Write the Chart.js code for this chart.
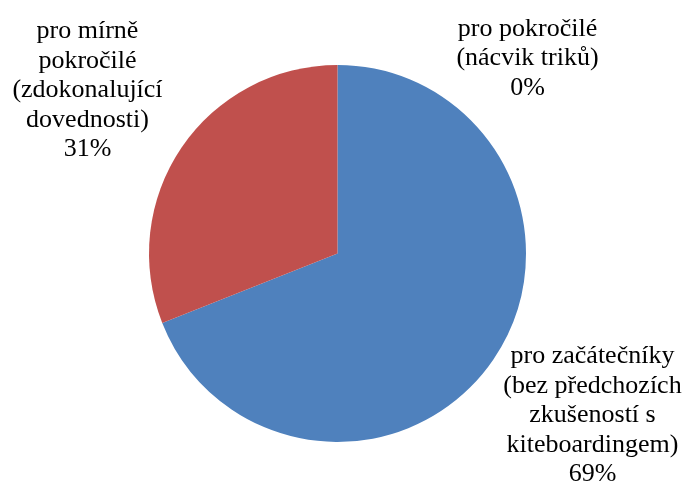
<!DOCTYPE html>
<html>
<head>
<meta charset="utf-8">
<script src="https://cdn.jsdelivr.net/npm/chart.js@4"></script>
<style>
  html, body { margin: 0; padding: 0; background: #fff; }
  #wrap { width: 682px; height: 488px; position: relative; }
</style>
</head>
<body>
<div id="wrap"><canvas id="pie"></canvas></div>
<script>
// kiteboarding course levels, share of respondents (%)
const categories = [
    ['pro začátečníky', '(bez předchozích', 'zkušeností s', 'kiteboardingem)'],
    ['pro mírně', 'pokročilé', '(zdokonalující', 'dovednosti)'],
    ['pro pokročilé', '(nácvik triků)']
];
const shares = [69, 31, 0];
const sliceColors = ['#4F81BD', '#C0504D', '#9BBB59'];

// where each label block sits, relative to the pie centre
const labelOffsets = [
    { dx: 255, dy: 162 },
    { dx: -250, dy: -163 },
    { dx: 190, dy: -195 }
];

const pieLabels = {
    id: 'pieLabels',
    afterDatasetsDraw(chart) {
        const ctx = chart.ctx;
        const meta = chart.getDatasetMeta(0);
        const lineH = 29.5;
        ctx.save();
        ctx.font = '26px "Liberation Serif", "Times New Roman", serif';
        ctx.fillStyle = '#000';
        ctx.textAlign = 'center';
        ctx.textBaseline = 'middle';
        meta.data.forEach((arc, i) => {
            const lines = categories[i].concat(shares[i] + '%');
            const cx = arc.x + labelOffsets[i].dx;
            const cy = arc.y + labelOffsets[i].dy;
            const top = cy - (lines.length - 1) * lineH / 2;
            lines.forEach((t, k) => ctx.fillText(t, cx, top + k * lineH));
        });
        ctx.restore();
    }
};

new Chart(document.getElementById('pie'), {
    type: 'pie',
    data: {
        labels: categories.map(c => c.join(' ')),
        datasets: [{
            data: shares,
            backgroundColor: sliceColors,
            borderWidth: 0
        }]
    },
    options: {
        responsive: true,
        maintainAspectRatio: false,
        animation: false,
        layout: { padding: { left: 149, right: 156, top: 65, bottom: 46 } },
        plugins: {
            legend: { display: false },
            tooltip: { enabled: false }
        }
    },
    plugins: [pieLabels]
});
</script>
</body>
</html>
